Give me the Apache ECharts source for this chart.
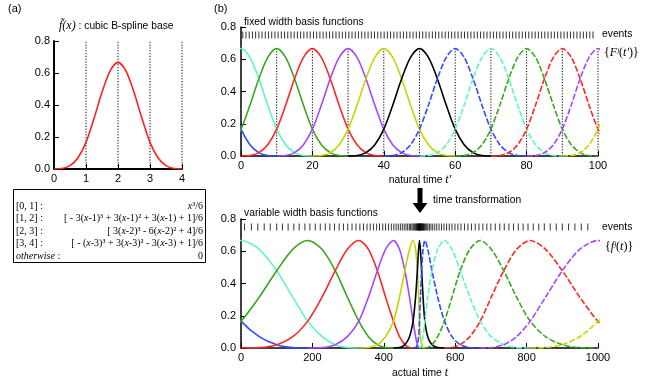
<!DOCTYPE html>
<html>
<head>
<meta charset="utf-8">
<script src="https://cdn.jsdelivr.net/npm/echarts@6/dist/echarts.min.js"></script>
<style>
html, body { margin: 0; padding: 0; background: #fff; }
#chart { width: 646px; height: 382px; }
</style>
</head>
<body>
<div id="chart"></div>
<script>
// cubic B-spline base at quarter steps
const splineX = [0, 0.25, 0.5, 0.75, 1, 1.25, 1.5, 1.75, 2, 2.25, 2.5, 2.75, 3, 3.25, 3.5, 3.75, 4]
const splineY = [0, 0.0026, 0.0208, 0.0703, 0.1667, 0.3151, 0.4792, 0.612, 0.6667, 0.612, 0.4792, 0.3151, 0.1667, 0.0703, 0.0208, 0.0026, 0]
const splineKnots = [1, 2, 3, 4]

// fixed width basis functions (natural time t')
const offsets = [-20, -17.5, -15, -12.5, -10, -7.5, -5, -2.5, 0, 2.5, 5, 7.5, 10, 12.5, 15, 17.5, 20]
const centers = [-10, 0, 10, 20, 30, 40, 50, 60, 70, 80, 90, 100, 110]
const knotLines = [10, 20, 30, 40, 50, 60, 70, 80, 90, 100]
const curveColors = ['#2f4dff', '#5ef7c4', '#38a81e', '#ff2626', '#a348ff', '#c2d600', '#000000',
  '#2f4dff', '#5ef7c4', '#38a81e', '#ff2626', '#a348ff', '#c2d600']
const curveDashed = [false, false, false, false, false, false, false, true, true, true, true, true, true]

// actual time t at natural time t' = -30, -27.5, ..., 130
const warpActual = [
  -427, -405, -382, -357, -330, -298, -264, -227, -187, -145, -100, -51,
  0, 51, 100, 145, 187, 227, 264, 298, 330, 357, 382, 405, 427, 444, 459, 472, 482, 489, 494, 497.5,
  500, 502.5, 506, 510, 515, 523, 535, 551, 570, 591, 614, 641, 670, 701, 736, 772, 810, 853, 900, 949, 1000,
  1051, 1100, 1147, 1190, 1228, 1264, 1299, 1330, 1359, 1386, 1409, 1430
]

const eventsNatural = [
  0.5, 1.4, 2.3, 3.2, 4.1, 5.0, 5.9, 6.8, 7.7, 8.6,
  9.5, 10.4, 11.3, 12.2, 13.1, 14.0, 14.9, 15.8, 16.7, 17.6,
  18.5, 19.4, 20.3, 21.2, 22.1, 23.0, 23.9, 24.8, 25.7, 26.6,
  27.5, 28.4, 29.3, 30.2, 31.1, 32.0, 32.9, 33.8, 34.7, 35.6,
  36.5, 37.4, 38.3, 39.2, 40.1, 41.0, 41.9, 42.8, 43.7, 44.6,
  45.5, 46.4, 47.3, 48.2, 49.1, 50.0, 50.9, 51.8, 52.7, 53.6,
  54.5, 55.4, 56.3, 57.2, 58.1, 59.0, 59.9, 60.8, 61.7, 62.6,
  63.5, 64.4, 65.3, 66.2, 67.1, 68.0, 68.9, 69.8, 70.7, 71.6,
  72.5, 73.4, 74.3, 75.2, 76.1, 77.0, 77.9, 78.8, 79.7, 80.6,
  81.5, 82.4, 83.3, 84.2, 85.1, 86.0, 86.9, 87.8, 88.7, 89.6,
  90.5, 91.4, 92.3, 93.2, 94.1, 95.0, 95.9, 96.8, 97.7, 98.6
]
const eventsActual = [
  10, 29, 47, 65, 82, 100, 116, 132, 148, 163,
  179, 193, 208, 222, 236, 249, 262, 275, 287, 299,
  311, 322, 333, 343, 353, 362, 371, 380, 388, 397,
  405, 413, 421, 428, 434.5, 440.6, 446.4, 451.8, 457.2, 462.1,
  466.8, 471.5, 475.2, 478.8, 482.3, 484.8, 487.3, 489.6, 491.4, 493.2,
  494.7, 496, 497.2, 498.2, 499.1, 500, 500.9, 501.8, 502.8, 504,
  505.3, 506.6, 508.1, 509.5, 511.2, 513, 514.8, 517.6, 520.4, 523.5,
  527.8, 532.1, 536.9, 542.7, 548.4, 554.8, 561.6, 568.5, 575.9, 583.4,
  591, 599.3, 607.6, 616.2, 625.9, 635.6, 645.6, 656.1, 666.5, 677.4,
  688.6, 699.8, 712.2, 724.8, 737.4, 750.4, 763.4, 776.6, 790.2, 803.9,
  818.6, 834.1, 849.6, 866.2, 883.1, 900, 917.6, 935.3, 953.1, 971.4
]
const eventRow = 0.75

const formulaRanges = ['[0, 1] :', '[1, 2] :', '[2, 3] :', '[3, 4] :', '{i|otherwise} :']
const formulaBodies = [
  '{i|x}³/6',
  '[ - 3({i|x}-1)³ + 3({i|x}-1)² + 3({i|x}-1) + 1]/6',
  '[ 3({i|x}-2)³ - 6({i|x}-2)² + 4]/6',
  '[ - ({i|x}-3)³ + 3({i|x}-3)² - 3({i|x}-3) + 1]/6',
  '0'
]

const sans = '"Liberation Sans", Arial, Helvetica, sans-serif'
const serif = '"Liberation Serif", "Times New Roman", Times, serif'

const chart = echarts.init(document.getElementById('chart'))

function xAx(gi, max, interval, lw) {
  return {
    type: 'value', gridIndex: gi, min: 0, max: max, interval: interval,
    axisLine: { show: true, onZero: false, lineStyle: { color: '#000', width: lw } },
    axisTick: { show: true, inside: true, length: 5, lineStyle: { color: '#000', width: 1 } },
    axisLabel: { color: '#000', fontSize: 11, fontFamily: sans, margin: 4, showMinLabel: true, showMaxLabel: true,
      formatter: v => String(v) },
    splitLine: { show: false }
  }
}
function yAx(gi, lw, margin) {
  return {
    type: 'value', gridIndex: gi, min: 0, max: 0.8, interval: 0.2,
    axisLine: { show: true, onZero: false, lineStyle: { color: '#000', width: lw } },
    axisTick: { show: true, inside: true, length: 5, lineStyle: { color: '#000', width: 1 } },
    axisLabel: { color: '#000', fontSize: 11, fontFamily: sans, margin: margin, showMinLabel: true, showMaxLabel: true,
      formatter: v => v.toFixed(1) },
    splitLine: { show: false }
  }
}
function dotLine(gi, x, top) {
  return {
    type: 'line', xAxisIndex: gi, yAxisIndex: gi, data: [[x, 0], [x, top]],
    symbol: 'none', silent: true, z: 1,
    lineStyle: { color: '#000', width: 1, type: [1.2, 1.6] }
  }
}
function curve(gi, pts, j) {
  return {
    type: 'line', xAxisIndex: gi, yAxisIndex: gi, data: pts,
    symbol: 'none', smooth: 0.3, clip: true, silent: true, z: 2 + j * 0.01,
    lineStyle: { color: curveColors[j], width: 1.6, type: curveDashed[j] ? [6, 2] : 'solid' }
  }
}
function events(gi, list) {
  return {
    type: 'scatter', xAxisIndex: gi, yAxisIndex: gi, data: list.map(t => [t, eventRow]),
    symbol: 'rect', symbolSize: [1, 7], silent: true, z: 3,
    itemStyle: { color: '#000' }
  }
}

const series = []
splineKnots.forEach(k => series.push(dotLine(0, k, 0.8)))
series.push({
  type: 'line', xAxisIndex: 0, yAxisIndex: 0, data: splineX.map((x, i) => [x, splineY[i]]),
  symbol: 'none', smooth: 0.3, silent: true, z: 2,
  lineStyle: { color: '#ff2020', width: 1.6 }
})
knotLines.forEach(k => series.push(dotLine(1, k, 0.6667)))
centers.forEach((c, j) => series.push(curve(1, offsets.map((o, k) => [c + o, splineY[k]]), j)))
series.push(events(1, eventsNatural))
centers.forEach((c, j) => series.push(curve(2, offsets.map((o, k) => [warpActual[4 * j + k], splineY[k]]), j)))
series.push(events(2, eventsActual))

function txt(x, y, text, opts) {
  opts = opts || {}
  return {
    type: 'text', x: x, y: y, silent: true, z: 10,
    style: {
      text: text, fill: '#000',
      font: opts.font || ('10.3px ' + sans),
      align: opts.align || 'left', textAlign: opts.align || 'left',
      verticalAlign: 'middle', textVerticalAlign: 'middle',
      rich: opts.rich
    }
  }
}
const mathRich = {
  i: { fontStyle: 'italic', fontFamily: serif, fontSize: 12, fill: '#000', color: '#000' },
  u: { fontFamily: serif, fontSize: 12, fill: '#000', color: '#000' },
  s: { fontFamily: sans, fontSize: 10.3, fill: '#000', color: '#000' }
}
const boxRich = {
  i: { fontStyle: 'italic', fontFamily: serif, fontSize: 10, fill: '#000', color: '#000' }
}

const graphic = [
  txt(8, 9, '(a)', { font: '11px ' + sans }),
  txt(214, 9, '(b)', { font: '11px ' + sans }),
  txt(59, 26, '{i|f\u0303(x)}{s| : cubic B-spline base}', { rich: mathRich }),
  txt(244, 22, 'fixed width basis functions'),
  txt(602, 34, 'events'),
  txt(604, 53, '{u|{}{i|F\u02B2}{u|(}{i|t\u2032}{u|)}}', { font: '12px ' + serif, rich: mathRich }),
  txt(420, 180, 'natural time {i|t\u2032}', { align: 'center', rich: mathRich }),
  txt(433, 200, 'time transformation'),
  txt(244, 213, 'variable width basis functions'),
  txt(602, 227, 'events'),
  txt(605, 247, '{u|{}{i|f\u02B2}{u|(}{i|t}{u|)}}', { font: '12px ' + serif, rich: mathRich }),
  txt(420, 373, 'actual time {i|t}', { align: 'center', rich: mathRich }),
  {
    type: 'polygon', silent: true, z: 10,
    shape: { points: [[417.5, 188], [422.5, 188], [422.5, 203], [427.5, 203], [420, 213], [412.5, 203], [417.5, 203]] },
    style: { fill: '#000' }
  },
  {
    type: 'rect', silent: true, z: 9,
    shape: { x: 13.5, y: 189.5, width: 192, height: 73 },
    style: { fill: '#fff', stroke: '#000', lineWidth: 1 }
  }
]
formulaRanges.forEach((r, i) => {
  const y = 206 + i * 12.5
  graphic.push(txt(16, y, r, { font: '10px ' + serif, rich: boxRich }))
  graphic.push(txt(203, y, formulaBodies[i], { font: '10px ' + serif, align: 'right', rich: boxRich }))
})

chart.setOption({
  animation: false,
  backgroundColor: '#fff',
  grid: [
    { left: 54, top: 41, width: 128, height: 128, outerBoundsMode: 'none' },
    { left: 241, top: 27, width: 357, height: 129, outerBoundsMode: 'none' },
    { left: 241, top: 219, width: 357, height: 129, outerBoundsMode: 'none' }
  ],
  xAxis: [xAx(0, 4, 1, 2), xAx(1, 100, 20, 1.5), xAx(2, 1000, 200, 1.5)],
  yAxis: [yAx(0, 2, 4), yAx(1, 1.5, 5), yAx(2, 1.5, 5)],
  graphic: graphic,
  series: series
})
</script>
</body>
</html>
